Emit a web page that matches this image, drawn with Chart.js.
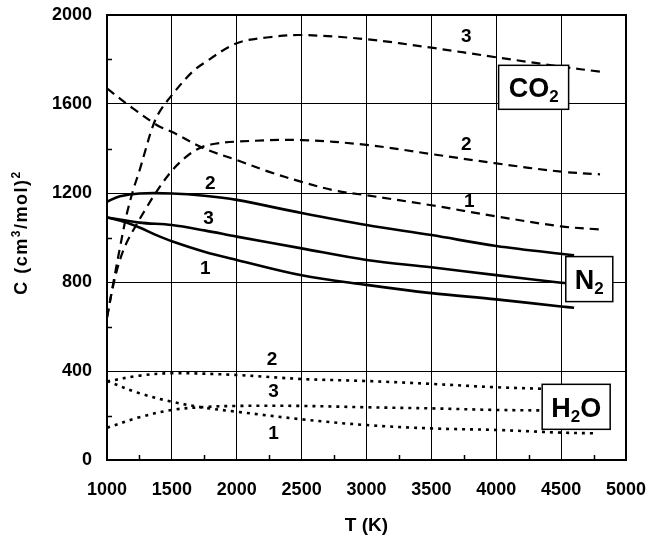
<!DOCTYPE html>
<html lang="en">
<head>
<meta charset="UTF-8">
<title>C(T) for CO2, N2 and H2O</title>
<script src="https://cdn.jsdelivr.net/npm/chart.js@4"></script>
<style>
  html, body { margin: 0; padding: 0; background: #fff; }
  #wrap { width: 647px; height: 543px; }
</style>
</head>
<body>
<div id="wrap"><canvas id="chart" width="647" height="543"></canvas></div>
<script>
// temperature (K) and C (cm3/mol)^2
const T_CO2_1 = [1000, 1200, 1400, 1500, 1750, 2000, 2250, 2500, 2750, 3000, 3500, 4000, 4500, 4800];
const C_CO2_1 = [1670, 1580, 1500, 1475, 1400, 1348, 1295, 1250, 1212, 1190, 1145, 1095, 1050, 1036];
const T_CO2_2 = [1000, 1050, 1100, 1150, 1200, 1300, 1400, 1500, 1600, 1700, 1800, 2000, 2500, 3000, 3500, 4000, 4500, 4800];
const C_CO2_2 = [640, 790, 900, 975, 1030, 1130, 1222, 1300, 1358, 1398, 1418, 1431, 1438, 1416, 1375, 1333, 1296, 1284];
const T_CO2_3 = [1000, 1050, 1100, 1150, 1200, 1250, 1300, 1350, 1400, 1500, 1650, 1750, 2000, 2250, 2500, 3000, 3500, 4000, 4500, 4800];
const C_CO2_3 = [640, 800, 955, 1100, 1210, 1300, 1400, 1495, 1560, 1640, 1740, 1785, 1873, 1900, 1910, 1891, 1853, 1810, 1768, 1745];

const T_N2_1 = [1000, 1125, 1250, 1375, 1500, 1750, 2000, 2500, 3000, 3500, 4000, 4500, 4600];
const C_N2_1 = [1090, 1072, 1045, 1012, 983, 936, 899, 830, 787, 750, 722, 690, 684];
const T_N2_2 = [1000, 1100, 1250, 1500, 1750, 2000, 2500, 3000, 3500, 4000, 4600];
const C_N2_2 = [1161, 1185, 1198, 1198, 1188, 1169, 1110, 1056, 1011, 962, 920];
const T_N2_3 = [1000, 1250, 1500, 1750, 2000, 2500, 3000, 3500, 4000, 4500, 4600];
const C_N2_3 = [1090, 1067, 1056, 1032, 1004, 951, 899, 866, 831, 797, 792];

const T_H2O_1 = [1000, 1250, 1500, 1750, 2000, 2500, 3000, 3500, 4000, 4500, 4750];
const C_H2O_1 = [355, 300, 262, 235, 217, 183, 157, 142, 135, 123, 120];
const T_H2O_2 = [1000, 1250, 1500, 2000, 2500, 3000, 3500, 4000, 4500, 4750];
const C_H2O_2 = [353, 379, 390, 382, 364, 355, 342, 327, 318, 315];
const T_H2O_3 = [1000, 1250, 1500, 1750, 2000, 2500, 3000, 3500, 4000, 4500, 4750];
const C_H2O_3 = [145, 192, 225, 238, 243, 243, 237, 232, 225, 222, 220];

const xTicks = [1000, 1500, 2000, 2500, 3000, 3500, 4000, 4500, 5000];
const yTicks = [0, 400, 800, 1200, 1600, 2000];

// curve numbers and species boxes, placed in data units
const curveLabels = [
  { text: '3', t: 3769, c: 1901 }, { text: '2', t: 3769, c: 1416 }, { text: '1', t: 3793, c: 1161 },
  { text: '2', t: 1796, c: 1240 }, { text: '3', t: 1783, c: 1086 }, { text: '1', t: 1758, c: 861 },
  { text: '2', t: 2271, c: 449 },  { text: '3', t: 2284, c: 307 },  { text: '1', t: 2284, c: 120 }
];
const speciesBoxes = [
  { parts: [['CO', 0], ['2', 1]], t: 4288, c: 1675, w: 70, h: 44 },
  { parts: [['N', 0], ['2', 1]], t: 4717, c: 813, w: 47, h: 45 },
  { parts: [['H', 0], ['2', 1], ['O', 0]], t: 4616, c: 239, w: 68, h: 45 }
];
// y title as pieces: [text, superscript?]
const yTitle = [['C (cm', 0], ['3', 1], ['/mol)', 0], ['2', 1]];

const FONT = "'Liberation Sans', Arial, sans-serif";

function pts(ts, cs) {
  return ts.map((t, i) => ({ x: t, y: cs[i] }));
}

function series(ts, cs, dash, width) {
  return {
    data: pts(ts, cs),
    borderColor: '#000',
    borderWidth: width,
    borderDash: dash,
    pointRadius: 0,
    tension: 0.35,
    fill: false
  };
}

const decor = {
  id: 'decor',
  afterDatasetsDraw(chart) {
    const { ctx, chartArea: a, scales: { x, y } } = chart;
    ctx.save();
    ctx.strokeStyle = '#000';

    // minor ticks pointing inward
    ctx.lineWidth = 1.5;
    ctx.beginPath();
    for (let v = 200; v < 2000; v += 400) {
      const py = Math.round(y.getPixelForValue(v)) + 0.5;
      ctx.moveTo(a.left, py);
      ctx.lineTo(a.left + 5, py);
    }
    for (let v = 1250; v < 5000; v += 500) {
      const px = Math.round(x.getPixelForValue(v)) + 0.5;
      ctx.moveTo(px, a.bottom);
      ctx.lineTo(px, a.bottom - 5);
    }
    ctx.stroke();

    // frame
    ctx.lineWidth = 2;
    ctx.strokeRect(a.left, a.top, a.right - a.left, a.bottom - a.top);

    // curve numbers
    ctx.fillStyle = '#000';
    ctx.font = 'bold 19px ' + FONT;
    ctx.textAlign = 'center';
    ctx.textBaseline = 'middle';
    curveLabels.forEach(l => {
      ctx.fillText(l.text, x.getPixelForValue(l.t), y.getPixelForValue(l.c));
    });

    // species boxes
    speciesBoxes.forEach(b => {
      const cx = x.getPixelForValue(b.t);
      const cy = y.getPixelForValue(b.c);
      ctx.fillStyle = '#fff';
      ctx.fillRect(cx - b.w / 2, cy - b.h / 2, b.w, b.h);
      ctx.lineWidth = 1.5;
      ctx.strokeRect(cx - b.w / 2, cy - b.h / 2, b.w, b.h);
      ctx.fillStyle = '#000';
      ctx.textAlign = 'left';
      ctx.textBaseline = 'alphabetic';
      let total = 0;
      b.parts.forEach(p => {
        ctx.font = (p[1] ? 'bold 17px ' : 'bold 27px ') + FONT;
        total += ctx.measureText(p[0]).width;
      });
      let px = cx - total / 2;
      const base = cy + 10;
      b.parts.forEach(p => {
        ctx.font = (p[1] ? 'bold 17px ' : 'bold 27px ') + FONT;
        ctx.fillText(p[0], px, p[1] ? base + 5 : base);
        px += ctx.measureText(p[0]).width;
      });
    });

    // rotated y title
    ctx.translate(21, (a.top + a.bottom) / 2 - 5);
    ctx.rotate(-Math.PI / 2);
    ctx.letterSpacing = '1.5px';
    let w = 0;
    yTitle.forEach(p => {
      ctx.font = (p[1] ? 'bold 12px ' : 'bold 18px ') + FONT;
      w += ctx.measureText(p[0]).width;
    });
    let tx = -w / 2;
    yTitle.forEach(p => {
      ctx.font = (p[1] ? 'bold 12px ' : 'bold 18px ') + FONT;
      ctx.fillText(p[0], tx, p[1] ? -1 : 6);
      tx += ctx.measureText(p[0]).width;
    });
    ctx.restore();
  }
};

new Chart(document.getElementById('chart'), {
  type: 'line',
  data: {
    datasets: [
      series(T_CO2_1, C_CO2_1, [9, 6], 2.2),
      series(T_CO2_2, C_CO2_2, [9, 6], 2.2),
      series(T_CO2_3, C_CO2_3, [9, 6], 2.2),
      series(T_N2_1, C_N2_1, [], 2.6),
      series(T_N2_2, C_N2_2, [], 2.6),
      series(T_N2_3, C_N2_3, [], 2.6),
      series(T_H2O_1, C_H2O_1, [3, 5], 2.6),
      series(T_H2O_2, C_H2O_2, [3, 5], 2.6),
      series(T_H2O_3, C_H2O_3, [3, 5], 2.6)
    ]
  },
  options: {
    responsive: false,
    animation: false,
    devicePixelRatio: 1,
    layout: { padding: { top: 15, right: 21, left: 0, bottom: 0 } },
    plugins: { legend: { display: false }, tooltip: { enabled: false } },
    scales: {
      x: {
        type: 'linear',
        min: 1000,
        max: 5000,
        afterBuildTicks: s => { s.ticks = xTicks.map(v => ({ value: v })); },
        afterFit: s => { s.height = 83; s.paddingLeft = 0; s.paddingRight = 0; },
        grid: { color: '#000', lineWidth: 1, drawTicks: false },
        border: { color: '#000', width: 2 },
        ticks: { color: '#000', padding: 19, callback: v => String(v),
                 font: { family: FONT, size: 18, weight: 'bold' } },
        title: { display: true, text: 'T (K)', color: '#000', padding: { top: 0, bottom: 6 },
                 font: { family: FONT, size: 19, weight: 'bold' } }
      },
      y: {
        min: 0,
        max: 2000,
        afterBuildTicks: s => { s.ticks = yTicks.map(v => ({ value: v })); },
        afterFit: s => { s.width = 107; s.paddingTop = 0; s.paddingBottom = 0; },
        grid: { color: '#000', lineWidth: 1, drawTicks: false },
        border: { color: '#000', width: 2 },
        ticks: { color: '#000', padding: 15, callback: v => String(v),
                 font: { family: FONT, size: 18, weight: 'bold' } }
      }
    }
  },
  plugins: [decor]
});
</script>
</body>
</html>
